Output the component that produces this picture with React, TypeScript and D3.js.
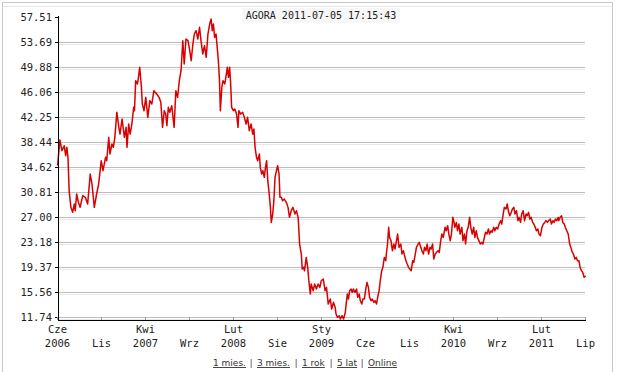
import React from "react";
import * as d3 from "d3";

const TITLE = "AGORA 2011-07-05 17:15:43";

const yTickLabels = ["57.51", "53.69", "49.88", "46.06", "42.25", "38.44", "34.62", "30.81", "27.00", "23.18", "19.37", "15.56", "11.74"];

const xMonthLabels = ["Cze", "Lis", "Kwi", "Wrz", "Lut", "Sie", "Sty", "Cze", "Lis", "Kwi", "Wrz", "Lut", "Lip"];
const xYearLabels = ["2006", "", "2007", "", "2008", "", "2009", "", "", "2010", "", "2011", ""];

const links = ["1 mies.", "3 mies.", "1 rok", "5 lat", "Online"];

const priceDates = [
  "2006-06-03","2006-06-11","2006-06-18","2006-06-26","2006-07-01","2006-07-05","2006-07-09","2006-07-13","2006-07-19","2006-07-25",
  "2006-07-31","2006-08-03","2006-08-08","2006-08-14","2006-08-20","2006-08-29","2006-09-07","2006-09-15","2006-09-24","2006-09-30",
  "2006-10-08","2006-10-16","2006-10-23","2006-11-01","2006-11-07","2006-11-16","2006-11-20","2006-11-27","2006-12-01","2006-12-08",
  "2006-12-13","2006-12-18","2006-12-25","2007-01-01","2007-01-05","2007-01-12","2007-01-20","2007-01-26","2007-01-29","2007-02-04",
  "2007-02-09","2007-02-15","2007-02-21","2007-02-24","2007-02-28","2007-03-06","2007-03-09","2007-03-14","2007-03-20","2007-03-23",
  "2007-03-29","2007-04-04","2007-04-11","2007-04-18","2007-04-25","2007-05-02","2007-05-12","2007-05-20","2007-05-26","2007-06-01",
  "2007-06-07","2007-06-12","2007-06-16","2007-06-21","2007-06-26","2007-07-03","2007-07-11","2007-07-17","2007-07-23","2007-07-29",
  "2007-08-04","2007-08-10","2007-08-15","2007-08-21",
  "2007-08-28","2007-09-03","2007-09-08","2007-09-14","2007-09-19","2007-09-25","2007-10-01","2007-10-07","2007-10-12","2007-10-18",
  "2007-10-24","2007-10-30","2007-11-05","2007-11-11","2007-11-16","2007-11-20","2007-11-24","2007-11-28","2007-12-03","2007-12-07",
  "2007-12-11","2007-12-15","2007-12-18","2007-12-23","2007-12-27","2008-01-02","2008-01-06","2008-01-11","2008-01-15","2008-01-19",
  "2008-01-22","2008-01-26","2008-02-01","2008-02-06","2008-02-12","2008-02-17","2008-02-20","2008-02-26","2008-03-04","2008-03-10",
  "2008-03-16","2008-03-21","2008-03-27","2008-04-02","2008-04-08","2008-04-12","2008-04-16","2008-04-21","2008-04-25","2008-05-01",
  "2008-05-04","2008-05-09","2008-05-13","2008-05-18","2008-05-22","2008-05-26","2008-05-30","2008-06-04","2008-06-08","2008-06-11",
  "2008-06-16","2008-06-20","2008-06-24","2008-06-29","2008-07-03","2008-07-08","2008-07-11","2008-07-16","2008-07-20","2008-07-26",
  "2008-08-02","2008-08-08","2008-08-13","2008-08-19","2008-08-25","2008-09-01","2008-09-06","2008-09-12","2008-09-17","2008-09-23",
  "2008-09-26","2008-10-01","2008-10-04","2008-10-10","2008-10-15","2008-10-19","2008-10-24","2008-10-27","2008-11-03","2008-11-08",
  "2008-11-14","2008-11-20","2008-11-26","2008-12-01",
  "2008-12-08","2008-12-14","2008-12-19","2008-12-25","2009-01-01","2009-01-06","2009-01-12","2009-01-18","2009-01-21","2009-01-26",
  "2009-02-01","2009-02-05","2009-02-11","2009-02-16","2009-02-22","2009-02-25","2009-03-01","2009-03-05","2009-03-09","2009-03-14",
  "2009-03-18","2009-03-22","2009-03-27","2009-04-02","2009-04-06","2009-04-11","2009-04-15","2009-04-20","2009-04-24","2009-04-29",
  "2009-05-03","2009-05-08","2009-05-13","2009-05-17","2009-05-22","2009-05-26","2009-06-01","2009-06-05","2009-06-10","2009-06-14",
  "2009-06-19","2009-06-23","2009-06-28","2009-07-02","2009-07-07","2009-07-12","2009-07-14","2009-07-18","2009-07-22","2009-07-25",
  "2009-07-30","2009-08-04","2009-08-09","2009-08-13","2009-08-18","2009-08-22","2009-08-27","2009-09-02","2009-09-06","2009-09-11",
  "2009-09-15","2009-09-20","2009-09-24","2009-09-29","2009-10-03","2009-10-08","2009-10-13","2009-10-17","2009-10-22","2009-10-26",
  "2009-11-01","2009-11-05","2009-11-10","2009-11-14","2009-11-19","2009-11-23","2009-11-28","2009-12-02","2009-12-07","2009-12-12",
  "2009-12-16","2009-12-21","2009-12-25","2009-12-30","2010-01-04","2010-01-09","2010-01-13","2010-01-18","2010-01-22","2010-01-27",
  "2010-02-02","2010-02-06","2010-02-11","2010-02-15","2010-02-20","2010-02-24","2010-03-01","2010-03-04",
  "2010-03-08","2010-03-13","2010-03-17","2010-03-22","2010-03-26","2010-04-01","2010-04-05","2010-04-10","2010-04-14","2010-04-19",
  "2010-04-23","2010-04-28","2010-05-02","2010-05-07","2010-05-12","2010-05-16","2010-05-21","2010-05-25","2010-05-30","2010-06-04",
  "2010-06-09","2010-06-13","2010-06-18","2010-06-22","2010-06-27","2010-07-02","2010-07-06","2010-07-11","2010-07-15","2010-07-20",
  "2010-07-24","2010-07-29","2010-08-03","2010-08-08","2010-08-13","2010-08-17","2010-08-22","2010-08-26","2010-09-01","2010-09-05",
  "2010-09-10","2010-09-14","2010-09-19","2010-09-23","2010-09-28","2010-10-02","2010-10-07","2010-10-12","2010-10-16","2010-10-21",
  "2010-10-25","2010-10-30","2010-11-04","2010-11-09","2010-11-13","2010-11-18","2010-11-22","2010-11-27","2010-12-02","2010-12-06",
  "2010-12-11","2010-12-15","2010-12-20","2010-12-24","2010-12-29","2011-01-03","2011-01-08","2011-01-13","2011-01-17","2011-01-22",
  "2011-01-26","2011-02-01","2011-02-05","2011-02-10","2011-02-14","2011-02-19","2011-02-23","2011-02-28","2011-03-02","2011-03-07",
  "2011-03-12","2011-03-16","2011-03-21","2011-03-25","2011-03-30","2011-04-04","2011-04-09","2011-04-13","2011-04-18","2011-04-22",
  "2011-04-27","2011-05-02","2011-05-06","2011-05-11","2011-05-15","2011-05-20","2011-05-24","2011-05-29","2011-06-03"
];

const priceValues = [
  34.78,38.70,37.07,37.83,36.31,37.58,36.05,30.96,28.42,27.66,
  28.93,27.91,30.46,29.19,28.42,30.20,29.95,28.93,33.51,31.98,
  28.42,30.46,31.98,35.54,34.02,36.05,35.54,39.10,36.56,38.09,
  37.58,39.10,42.92,40.63,39.61,41.90,39.10,40.63,37.58,41.14,
  39.61,41.14,43.68,43.17,47.75,47.24,48.00,49.78,46.73,44.19,
  43.17,45.21,42.15,44.70,44.19,46.22,45.71,45.21,44.44,40.63,
  43.17,42.66,40.88,43.68,42.92,43.93,40.63,46.22,45.21,47.75,
  49.27,53.85,50.29,54.11,
  53.85,52.33,50.80,53.34,54.87,55.38,54.11,55.89,53.85,51.82,
  53.09,51.31,54.87,56.39,57.16,55.38,56.39,54.36,54.87,52.83,
  50.80,47.75,43.17,46.73,47.75,47.24,48.26,49.78,48.26,49.78,
  47.75,43.68,43.17,43.43,42.66,40.63,43.17,42.66,42.92,42.15,
  41.14,42.15,40.12,41.14,39.61,40.37,37.58,36.05,35.54,36.56,
  34.52,33.51,34.02,33.00,34.52,35.54,32.49,30.46,28.42,26.13,
  27.40,29.44,33.00,34.02,34.78,33.51,29.95,29.95,29.44,29.69,
  29.19,28.42,26.90,27.91,28.42,27.40,27.91,26.90,22.83,21.30,
  19.01,19.27,18.76,20.79,19.27,17.23,15.20,16.72,15.71,16.72,
  15.96,16.72,16.21,17.23,
  17.49,15.71,16.22,13.67,14.44,12.91,13.93,13.16,12.15,11.64,
  11.89,11.39,11.89,11.39,12.40,13.67,15.20,14.44,15.71,15.96,
  15.45,15.96,15.45,15.96,14.69,15.20,14.18,13.67,14.44,14.44,
  15.71,16.98,16.22,14.69,14.18,14.44,13.93,14.18,13.67,14.69,
  15.71,17.23,18.76,19.27,20.79,20.28,21.30,22.83,25.37,23.84,
  23.34,21.81,22.83,22.06,23.34,24.35,22.32,22.83,21.30,21.81,
  21.05,20.28,19.77,19.27,19.01,18.76,20.28,20.03,21.30,22.32,
  22.83,23.08,22.32,21.81,21.30,22.32,21.81,22.83,21.30,22.32,
  22.06,22.83,20.54,21.30,21.56,21.81,21.56,23.34,24.35,23.84,
  25.37,24.86,25.62,24.35,23.34,24.35,26.90,26.39,
  25.37,26.13,24.86,25.88,24.35,25.37,23.34,24.35,22.83,24.86,
  25.37,26.90,25.37,24.35,25.37,23.84,24.86,23.84,23.34,22.83,
  23.08,22.83,23.84,24.61,24.35,25.12,24.35,24.86,24.61,25.37,
  24.86,25.37,25.12,25.88,26.39,25.88,27.40,28.42,28.17,28.93,
  27.66,27.15,27.66,28.17,28.42,27.40,27.91,26.39,26.90,26.13,
  27.40,27.91,26.39,27.40,27.15,27.66,26.64,26.90,26.13,25.88,
  25.37,24.86,25.12,24.35,24.10,25.37,25.88,26.13,26.39,26.13,
  26.39,26.64,25.88,26.39,26.13,26.64,26.39,26.90,26.39,26.90,
  27.15,26.13,25.88,25.37,24.86,24.35,22.83,22.32,21.56,21.30,
  20.54,20.79,20.28,20.28,19.27,18.76,18.51,17.74,17.99
];

const W = 618;
const H = 372;
const plotLeft = 58;
const plotRight = 585;
const axisY = 320;

export default function App() {
  const parse = d3.timeParse("%Y-%m-%d");
  const data = priceDates.map((d, i) => ({ date: parse(d) as Date, value: priceValues[i] }));

  const x = d3.scaleTime()
    .domain([parse("2006-06-01") as Date, parse("2011-06-01") as Date])
    .range([57, 585]);

  const yVals = yTickLabels.map(Number);
  const y = d3.scaleLinear()
    .domain([yVals[yVals.length - 1], yVals[0]])
    .range([316.7, 16.7]);

  const xt = d3.scalePoint<number>()
    .domain(xMonthLabels.map((_, i) => i))
    .range([57, 585]);

  const line = d3.line<{ date: Date; value: number }>()
    .x(d => x(d.date))
    .y(d => y(d.value));

  const mono = "'DejaVu Sans Mono', monospace";

  let linkX = 213;
  const linkEls: React.ReactNode[] = [];
  const linkWidths = [32, 33, 23, 19, 30];
  links.forEach((t, i) => {
    linkEls.push(
      <text key={"l" + i} x={linkX} y={366} fontFamily="'DejaVu Sans', sans-serif" fontSize={9}
        fill="#333" textDecoration="underline">{t}</text>
    );
    if (i < links.length - 1) {
      linkEls.push(
        <text key={"s" + i} x={linkX + linkWidths[i] + 6} y={366} fontFamily="'DejaVu Sans', sans-serif"
          fontSize={9.5} fill="#555" textAnchor="middle">|</text>
      );
    }
    linkX += linkWidths[i] + 12;
  });

  return (
    <div style={{ position: "absolute", left: 0, top: 0 }}>
      <svg width={W} height={H} style={{ display: "block", background: "#fff" }}>
        <rect x={2.5} y={2.5} width={610} height={H + 10} fill="#fff" stroke="#c8c8c8" />
        <line x1={3} x2={612} y1={6.5} y2={6.5} stroke="#e6e6e6" />

        {yVals.slice(1).map((v, i) => {
          const yy = Math.round(y(v)) + 0.5;
          return (
            <g key={"g" + i}>
              <line x1={plotLeft} x2={plotRight} y1={yy} y2={yy} stroke="#bdbdbd" />
              <line x1={plotLeft} x2={plotRight} y1={yy + 2} y2={yy + 2} stroke="#e8e8e8" />
            </g>
          );
        })}

        <rect x={242} y={8} width={158} height={15} fill="#f7f7f7" />
        <text x={321} y={19} textAnchor="middle" fontFamily={mono} fontSize={10} fill="#222">{TITLE}</text>

        <path d={line(data) || ""} fill="none" stroke="#d80000" strokeWidth={1.5} strokeLinejoin="round" />

        <line x1={plotLeft + 0.5} x2={plotLeft + 0.5} y1={16} y2={axisY + 1} stroke="#000" />
        <line x1={plotLeft} x2={plotRight + 1} y1={axisY + 0.5} y2={axisY + 0.5} stroke="#000" />

        {yVals.map((v, i) => {
          const yy = Math.round(y(v)) + 0.5;
          return (
            <g key={"yt" + i}>
              <line x1={55} x2={plotLeft} y1={yy} y2={yy} stroke="#000" />
              <text x={52} y={yy} dy="0.35em" textAnchor="end" fontFamily={mono} fontSize={10.5} fill="#222">
                {yTickLabels[i]}
              </text>
            </g>
          );
        })}

        {xMonthLabels.map((m, i) => {
          const xx = Math.round(xt(i) as number) + 0.5;
          const hasYear = xYearLabels[i] !== "";
          return (
            <g key={"xt" + i}>
              <line x1={xx} x2={xx} y1={axisY - 3} y2={axisY} stroke="#999" />
              {hasYear ? (
                <>
                  <text x={xx} y={329} dy="0.35em" textAnchor="middle" fontFamily={mono} fontSize={10.5} fill="#222">{m}</text>
                  <text x={xx} y={343} dy="0.35em" textAnchor="middle" fontFamily={mono} fontSize={10.5} fill="#222">{xYearLabels[i]}</text>
                </>
              ) : (
                <text x={xx} y={343} dy="0.35em" textAnchor="middle" fontFamily={mono} fontSize={10.5} fill="#222">{m}</text>
              )}
            </g>
          );
        })}

        {linkEls}
      </svg>
    </div>
  );
}
